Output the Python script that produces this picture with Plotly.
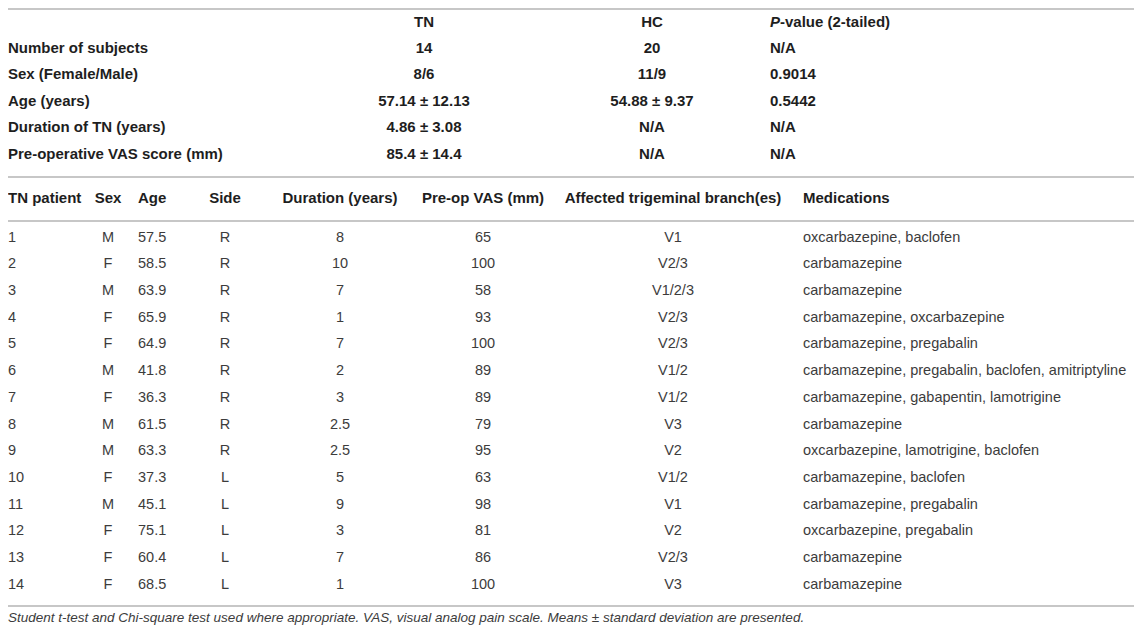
import plotly.graph_objects as go

# summary table
summary_cols = ["TN", "HC", "<i>P</i>-value (2-tailed)"]
summary_rows = ["Number of subjects", "Sex (Female/Male)", "Age (years)",
                "Duration of TN (years)", "Pre-operative VAS score (mm)"]
tn_vals = ["14", "8/6", "57.14 ± 12.13", "4.86 ± 3.08", "85.4 ± 14.4"]
hc_vals = ["20", "11/9", "54.88 ± 9.37", "N/A", "N/A"]
p_vals = ["N/A", "0.9014", "0.5442", "N/A", "N/A"]

# per-patient table
patient_cols = ["TN patient", "Sex", "Age", "Side", "Duration (years)",
                "Pre-op VAS (mm)", "Affected trigeminal branch(es)", "Medications"]
patient = ["1", "2", "3", "4", "5", "6", "7", "8", "9", "10", "11", "12", "13", "14"]
sex = ["M", "F", "M", "F", "F", "M", "F", "M", "M", "F", "M", "F", "F", "F"]
age = ["57.5", "58.5", "63.9", "65.9", "64.9", "41.8", "36.3", "61.5", "63.3",
       "37.3", "45.1", "75.1", "60.4", "68.5"]
side = ["R", "R", "R", "R", "R", "R", "R", "R", "R", "L", "L", "L", "L", "L"]
duration = ["8", "10", "7", "1", "7", "2", "3", "2.5", "2.5", "5", "9", "3", "7", "1"]
vas = ["65", "100", "58", "93", "100", "89", "89", "79", "95", "63", "98", "81", "86", "100"]
branch = ["V1", "V2/3", "V1/2/3", "V2/3", "V2/3", "V1/2", "V1/2", "V3", "V2",
          "V1/2", "V1", "V2", "V2/3", "V3"]
meds = ["oxcarbazepine, baclofen", "carbamazepine", "carbamazepine",
        "carbamazepine, oxcarbazepine", "carbamazepine, pregabalin",
        "carbamazepine, pregabalin, baclofen, amitriptyline",
        "carbamazepine, gabapentin, lamotrigine", "carbamazepine",
        "oxcarbazepine, lamotrigine, baclofen", "carbamazepine, baclofen",
        "carbamazepine, pregabalin", "oxcarbazepine, pregabalin",
        "carbamazepine", "carbamazepine"]

footnote = ("Student t-test and Chi-square test used where appropriate. "
            "VAS, visual analog pain scale. Means ± standard deviation are presented.")

# the page body keeps an 8px margin, so the axes run in window pixels
W, H = 1126, 619
X0, Y0 = 8, 8
FONT = "Liberation Sans"
BODY = "#3c3c3c"
HEAD = "#1e1e1e"
RULE = "#b4b4b4"
FS_HEAD = 15
FS_BODY = 14.5

top_head_y = 23
top_row0, top_step = 49, 26.5
bot_head_y = 199
bot_row0, bot_step = 238, 26.7
rules_y = [9, 177, 221, 606]
foot_y = 619

fig = go.Figure()


def add_col(x, ys, texts, pos, bold=False):
    fig.add_trace(go.Scatter(
        x=[x] * len(texts), y=ys, text=texts, mode="text",
        textposition=pos, hoverinfo="skip", showlegend=False,
        textfont=dict(family=FONT, size=FS_HEAD if bold else FS_BODY,
                      color=HEAD if bold else BODY,
                      weight="bold" if bold else "normal"),
    ))


top_ys = [top_row0 + i * top_step for i in range(len(summary_rows))]
bot_ys = [bot_row0 + i * bot_step for i in range(len(patient))]

# summary table
add_col(8, top_ys, summary_rows, "middle right", bold=True)
for x, col, vals, pos in [(424, summary_cols[0], tn_vals, "middle center"),
                          (652, summary_cols[1], hc_vals, "middle center"),
                          (770, summary_cols[2], p_vals, "middle right")]:
    add_col(x, [top_head_y], [col], pos, bold=True)
    add_col(x, top_ys, vals, pos, bold=True)

# patient table
cols = [(8, patient, "middle right"), (108, sex, "middle center"),
        (138, age, "middle right"), (225, side, "middle center"),
        (340, duration, "middle center"), (483, vas, "middle center"),
        (673, branch, "middle center"), (803, meds, "middle right")]
for (x, vals, pos), name in zip(cols, patient_cols):
    add_col(x, [bot_head_y], [name], pos, bold=True)
    add_col(x, bot_ys, vals, pos)

fig.add_trace(go.Scatter(
    x=[8], y=[foot_y], text=[footnote], mode="text", textposition="middle right",
    hoverinfo="skip", showlegend=False,
    textfont=dict(family=FONT, size=13.5, color=BODY, style="italic"),
))

for y in rules_y:
    fig.add_shape(type="line", x0=X0, x1=X0 + W, y0=y, y1=y, xref="x", yref="y",
                  line=dict(color=RULE, width=1.6))

fig.update_layout(
    width=W, height=H, margin=dict(l=0, r=0, t=0, b=0),
    paper_bgcolor="white", plot_bgcolor="white",
    xaxis=dict(range=[X0, X0 + W], visible=False, fixedrange=True),
    yaxis=dict(range=[Y0 + H, Y0], visible=False, fixedrange=True),
)

fig.write_html("out.html")
